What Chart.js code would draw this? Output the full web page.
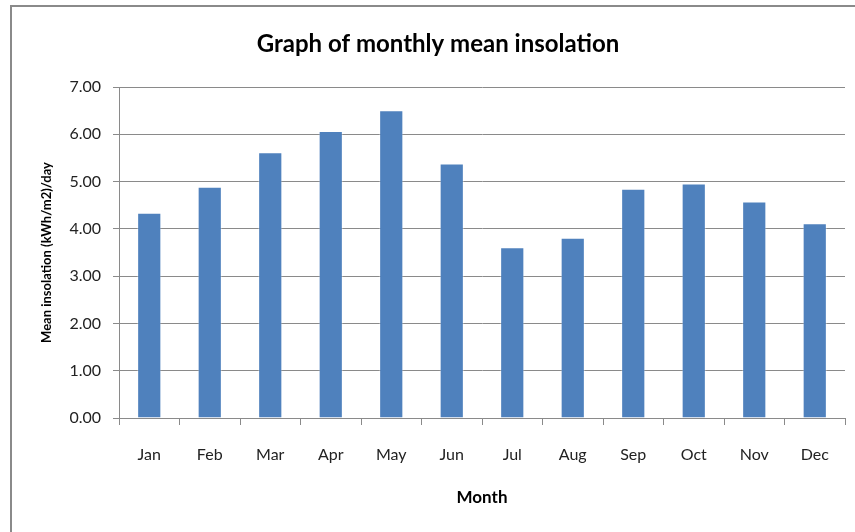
<!DOCTYPE html>
<html>
<head>
<meta charset="utf-8">
<script src="https://cdn.jsdelivr.net/npm/chart.js@4.4.1/dist/chart.umd.min.js"></script>
<style>
  html, body { margin: 0; padding: 0; background: #fff; overflow: hidden; }
  #frame { position: absolute; left: 10px; top: 5px; width: 900px; height: 600px; border: 2px solid #8a8a8a; box-sizing: border-box; }
  #wrap { position: absolute; left: 0; top: 0; width: 855px; height: 532px; }
</style>
</head>
<body>
<div id="frame"></div>
<div id="wrap"><canvas id="chart" width="855" height="532"></canvas></div>
<script>
const months = ["Jan", "Feb", "Mar", "Apr", "May", "Jun", "Jul", "Aug", "Sep", "Oct", "Nov", "Dec"];
const insolation = [4.34, 4.89, 5.62, 6.07, 6.51, 5.38, 3.61, 3.81, 4.85, 4.96, 4.58, 4.12];
const yTicks = [0, 1, 2, 3, 4, 5, 6, 7];

const chartTitle = "Graph of monthly mean insolation";
const xTitle = "Month";
const yTitle = "Mean insolation (kWh/m2)/day";

const FONT = "Lato, 'Open Sans', sans-serif";

// title is drawn by hand so it can sit a little right of the canvas centre, like the original
const titlePlugin = {
    id: "chartTitle",
    afterDraw(chart) {
        const c = chart.ctx;
        c.save();
        c.font = `bold 24px ${FONT}`;
        c.fillStyle = "#000";
        c.textAlign = "center";
        c.textBaseline = "middle";
        c.fillText(chartTitle, 438, 44);
        c.restore();
    }
};

const ctx = document.getElementById("chart").getContext("2d");
new Chart(ctx, {
    type: "bar",
    data: {
        labels: months,
        datasets: [{
            data: insolation,
            backgroundColor: "#4f81bd",
            borderColor: "rgba(255,255,255,0.35)",
            borderWidth: 1,
            barPercentage: 0.4,
            categoryPercentage: 1
        }]
    },
    plugins: [titlePlugin],
    options: {
        responsive: false,
        animation: false,
        layout: { padding: { left: 0, right: 10, top: 87, bottom: 0 } },
        plugins: {
            legend: { display: false },
            tooltip: { enabled: false },
            title: { display: false }
        },
        scales: {
            x: {
                grid: { display: true, drawOnChartArea: false, drawTicks: true, tickLength: 7, color: "#8a8a8a", offset: true },
                border: { display: true, color: "#8a8a8a", width: 1 },
                ticks: { color: "#222", font: { family: FONT, size: 16 }, padding: 20, maxRotation: 0 },
                title: {
                    display: true,
                    text: xTitle,
                    color: "#000",
                    font: { family: FONT, size: 17, weight: "bold" },
                    padding: { top: 0, bottom: 24 }
                },
                afterFit: (scale) => { scale.height = 114; }
            },
            y: {
                min: 0,
                max: 7,
                afterBuildTicks: (scale) => { scale.ticks = yTicks.map(v => ({ value: v })); },
                grid: { color: "#8a8a8a", lineWidth: 1, drawTicks: true, tickLength: 6, tickColor: "#8a8a8a" },
                border: { display: true, color: "#8a8a8a", width: 1 },
                ticks: {
                    color: "#222",
                    font: { family: FONT, size: 16 },
                    padding: 12,
                    callback: (v) => Number(v).toFixed(2)
                },
                title: {
                    display: true,
                    text: yTitle,
                    color: "#000",
                    font: { family: FONT, size: 13, weight: "bold" },
                    padding: { top: 39, bottom: 0 }
                },
                afterFit: (scale) => { scale.width = 119; }
            }
        }
    }
});
</script>
</body>
</html>
